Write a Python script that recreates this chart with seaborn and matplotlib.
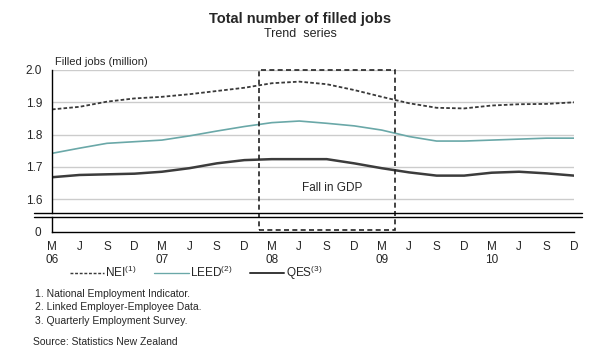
import matplotlib
matplotlib.use("Agg")
import matplotlib.pyplot as plt
import seaborn as sns
import numpy as np
import pandas as pd
from matplotlib.lines import Line2D
from matplotlib.patches import Rectangle

# ---- data ----
quarters = ["M", "J", "S", "D"] * 5
years = ["06", "07", "08", "09", "10"]
tick_labels = [q + ("\n" + years[i // 4] if q == "M" else "") for i, q in enumerate(quarters)]
nei = [1.878, 1.886, 1.902, 1.912, 1.917, 1.925, 1.935, 1.945, 1.959, 1.964,
       1.956, 1.938, 1.917, 1.897, 1.883, 1.881, 1.890, 1.894, 1.895, 1.900]
leed = [1.742, 1.758, 1.773, 1.778, 1.783, 1.796, 1.811, 1.825, 1.837, 1.842,
        1.835, 1.827, 1.814, 1.794, 1.780, 1.780, 1.783, 1.786, 1.789, 1.789]
qes = [1.668, 1.675, 1.677, 1.679, 1.685, 1.696, 1.711, 1.721, 1.724, 1.724,
       1.724, 1.711, 1.696, 1.683, 1.673, 1.673, 1.682, 1.685, 1.680, 1.673]
series_names = ["NEI", "LEED", "QES"]
legend_labels = [r"NEI$^{\mathregular{(1)}}$", r"LEED$^{\mathregular{(2)}}$", r"QES$^{\mathregular{(3)}}$"]
gdp_fall_start, gdp_fall_end = 7.55, 12.5   # quarter index bounds of shaded period
footnotes = ["1. National Employment Indicator.",
             "2. Linked Employer-Employee Data.",
             "3. Quarterly Employment Survey."]
source = "Source: Statistics New Zealand"

sns.set_theme(style="white")
plt.rcParams["font.family"] = ["Liberation Sans", "DejaVu Sans"]
plt.rcParams["mathtext.fontset"] = "custom"
plt.rcParams["mathtext.rm"] = "Liberation Sans"

df = pd.DataFrame({"idx": np.arange(len(nei)), "NEI": nei, "LEED": leed, "QES": qes})
long = df.melt(id_vars="idx", var_name="series", value_name="value")

W, H = 600, 353
fig = plt.figure(figsize=(6, 3.53), dpi=100)
L, R = 52 / W, 574 / W
ax = fig.add_axes([L, 1 - 212.5 / H, R - L, (212.5 - 70) / H])
ax0 = fig.add_axes([L, 1 - 231.5 / H, R - L, (231.5 - 217.3) / H])

colors = {"NEI": "#3a3a3a", "LEED": "#6aa8a8", "QES": "#3c3c3c"}
styles = {"NEI": (0, (2, 1.2)), "LEED": "-", "QES": "-"}
widths = {"NEI": 1.3, "LEED": 1.2, "QES": 1.8}
for name in series_names:
    sub = long[long.series == name]
    sns.lineplot(data=sub, x="idx", y="value", ax=ax, color=colors[name],
                 linestyle=styles[name], linewidth=widths[name], legend=False)

ymin = 2.0 - (212.5 - 70) / 323
ax.set_ylim(ymin, 2.0)
ax.set_xlim(0, 19)
ax.set_yticks([1.6, 1.7, 1.8, 1.9, 2.0])
ax.set_yticklabels(["1.6", "1.7", "1.8", "1.9", "2.0"], fontsize=8.5)
ax.yaxis.grid(True, color="#cccccc", linewidth=1)
ax.set_axisbelow(True)
ax.set_xticks([])
ax.set_xlabel("")
ax.set_ylabel("")
for s in ["top", "right", "bottom"]:
    ax.spines[s].set_visible(False)
ax.spines["left"].set_color("black")
ax.spines["left"].set_linewidth(1)
ax.tick_params(axis="y", length=0, pad=7)

ax0.set_xlim(0, 19)
ax0.set_ylim(0, 0.044)
ax0.set_yticks([0])
ax0.set_yticklabels(["0"], fontsize=8.5)
ax0.set_xticks(np.arange(len(tick_labels)))
ax0.set_xticklabels(tick_labels, fontsize=8.5, linespacing=1.15)
for s in ["top", "right"]:
    ax0.spines[s].set_visible(False)
for s in ["left", "bottom"]:
    ax0.spines[s].set_color("black")
    ax0.spines[s].set_linewidth(1)
ax0.tick_params(axis="x", direction="in", length=4, width=1, color="black", pad=6.5)
ax0.tick_params(axis="y", length=0, pad=8)
ax0.set_facecolor("none")

# axis break lines
for yp in (212.5, 217.3):
    fig.add_artist(Line2D([34 / W, 582 / W], [1 - yp / H, 1 - yp / H], color="black", linewidth=1))

# dashed box for fall in GDP
y_bot = ax.transData.inverted().transform((0, fig.transFigure.transform((0, 1 - 230 / H))[1]))[1]
rect = Rectangle((gdp_fall_start, y_bot), gdp_fall_end - gdp_fall_start, 2.0 - y_bot,
                 fill=False, edgecolor="#222222", linestyle=(0, (3, 2)), linewidth=1.2, clip_on=False, zorder=5)
ax.add_patch(rect)
ax.text(gdp_fall_start + 1.55, 1.635, "Fall in GDP", fontsize=8.5, va="center", ha="left")

# titles
fig.text(0.5, 1 - 19 / H, "Total number of filled jobs", ha="center", va="center", fontsize=10.5, fontweight="bold")
fig.text(0.5, 1 - 34 / H, "Trend  series", ha="center", va="center", fontsize=9)
fig.text(55 / W, 1 - 62 / H, "Filled jobs (million)", ha="left", va="center", fontsize=8)

# legend
handles = [Line2D([], [], color=colors[n], linestyle=styles[n], linewidth=widths[n] * 0.8) for n in series_names]
fig.legend(handles, legend_labels, loc="center", bbox_to_anchor=(196 / W, 1 - 273 / H), ncol=3,
           frameon=False, fontsize=8.5, handlelength=2.9, handletextpad=0.12, columnspacing=1.5)

for i, t in enumerate(footnotes):
    fig.text(35 / W, 1 - (294 + 13.5 * i) / H, t, ha="left", va="center", fontsize=7.5)
fig.text(33 / W, 1 - 342 / H, source, ha="left", va="center", fontsize=7.5)

fig.savefig("out.png", dpi=100, facecolor="white")
